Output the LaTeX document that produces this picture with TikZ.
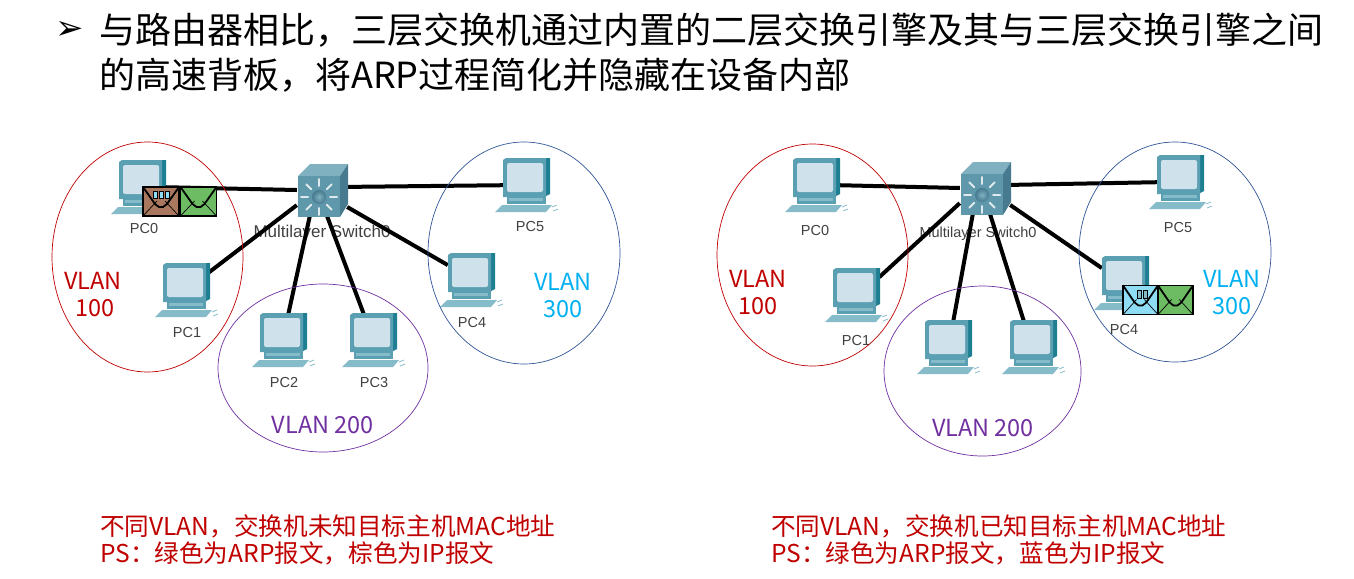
\documentclass[tikz,border=0pt]{standalone}
\usepackage{fontspec}
\setmainfont{Noto Sans CJK SC}
\newfontfamily\iconfont{Liberation Sans}
\newfontfamily\dingfont{DejaVu Sans}
\usetikzlibrary{shapes.geometric}
\definecolor{vlanred}{HTML}{C00000}
\definecolor{vlanpurple}{HTML}{7030A0}
\definecolor{vlanblue}{HTML}{00B0F0}
\definecolor{ringblue}{HTML}{2F5597}
\definecolor{pcteal}{HTML}{5A9FB2}
\definecolor{pcdark}{HTML}{1F7F92}
\definecolor{pclight}{HTML}{86BBCA}
\definecolor{pcscreen}{HTML}{CFE1EB}
\definecolor{swfront}{HTML}{5F97AB}
\definecolor{swtop}{HTML}{7FB1C1}
\definecolor{swside}{HTML}{47798F}
\definecolor{ipbrown}{HTML}{A9785F}
\definecolor{ipblue}{HTML}{8FDDF5}
\definecolor{arpgreen}{HTML}{6DBB63}
\tikzstyle{pcnode}=[inner sep=0pt,minimum width=46pt,minimum height=38pt]
\tikzstyle{swnode}=[inner sep=0pt,minimum width=50pt,minimum height=52pt]
\tikzstyle{link}=[line width=4pt,black]
\tikzstyle{ring}=[draw,ellipse,inner sep=0pt,line width=0.7pt]
\tikzstyle{vlantext}=[font=\fontsize{23.5}{28}\selectfont,align=center,inner sep=0pt]
\tikzstyle{iconlabel}=[font=\iconfont\fontsize{14.5}{15}\selectfont,text=black!75,inner sep=0pt]
\tikzstyle{caption}=[anchor=west,font=\fontsize{24.6}{27}\selectfont,align=left,text=vlanred,inner sep=0pt]
\tikzset{
  pics/pcicon/.style={code={
    % keyboard, stand, then the monitor
    \fill[pclight] (-31,33) -- (-24,26) -- (26,26) -- (20,33) -- cycle;
    \fill[pcteal] (-19,17) rectangle (20,25);
    \fill[pclight] (-17,19) rectangle (17,22);
    \fill[pcdark] (18,-21) -- (24,-21) -- (24,15) -- (18,18) -- cycle;
    \fill[pcteal] (-23,-19) -- (-20,-21) -- (20,-21) -- (20,18) -- (-23,18) -- cycle;
    \fill[pcscreen,rounded corners=2pt] (-19,-16) rectangle (17,13);
    \draw[pclight,line width=0.8pt] (26,28) -- (31,26) (27,32) -- (32,30);
  }},
  pics/swicon/.style={code={
    \fill[swtop] (-24,-14) -- (-12,-26) -- (26,-26) -- (18,-14) -- cycle;
    \fill[swside] (18,-14) -- (26,-26) -- (26,14) -- (18,27) -- cycle;
    \fill[swfront] (-24,-14) rectangle (18,27);
    \shade[inner color=swtop,outer color=swside] (-3,7) circle (7);
    \foreach \ang in {0,45,...,315}
      \draw[white!80!swfront,line width=2pt,line cap=round] (-3,7) ++(\ang:11) -- ++(\ang:7);
  }},
  pics/envelope/.style 2 args={code={
    \fill[#1] (0,0) rectangle (36,29);
    \draw[black,line width=0.7pt] (0,29) -- (14,14) (36,29) -- (22,14);
    #2
    \draw[black,line width=1.8pt] (0,0) -- (12,17) -- (16,20) -- (20,20) -- (24,17) -- (36,0);
    \draw[black,line width=1.8pt] (0,0) rectangle (36,29);
  }}
}

\begin{document}
\begin{tikzpicture}[x=1pt,y=-1pt]
    \useasboundingbox (0,0) rectangle (1354,578);

    % Heading
    \node[inner sep=0pt,font=\dingfont\bfseries\fontsize{34}{34}\selectfont] (bullet) at (70,30) {➢};
    \node[anchor=north west,inner sep=0pt,align=left,font=\fontsize{36}{45}\selectfont] (heading) at (99,13)
    {与路由器相比，三层交换机通过内置的二层交换引擎及其与三层交换引擎之间\\
    的高速背板，将ARP过程简化并隐藏在设备内部};

    % Named nodes for left network
    \foreach \name/\px/\py in {lpc0/142/181,lpc1/186/284,lpc2/283/334,lpc3/373/334,lpc4/471/274,lpc5/526/179}
      \node[pcnode] (\name) at (\px,\py) {};
    \node[swnode] (lsw) at (322,190) {};
    % Named nodes for right network
    \foreach \name/\px/\py in {rpc0/816/179,rpc1/856/289,rpc2/948/341,rpc3/1033/341,rpc4/1125/277,rpc5/1180/176}
      \node[pcnode] (\name) at (\px,\py) {};
    \node[swnode] (rsw) at (985,188) {};

    % Names under the icons
    \foreach \name/\px/\py/\txt in {lab0/144/229/PC0,lab1/187/333/PC1,lab2/284/383/PC2,lab3/374/383/PC3,lab4/472/323/PC4,lab5/530/227/PC5,
      lab6/815/231/PC0,lab7/856/341/PC1,lab8/1124/330/PC4,lab9/1178/228/PC5}
      \node[iconlabel] (\name) at (\px,\py) {\txt};
    \node[iconlabel,font=\iconfont\fontsize{17}{18}\selectfont] (lswlabel) at (322,233) {Multilayer Switch0};
    \node[iconlabel] (rswlabel) at (978,234) {Multilayer Switch0};

    % Connections, switch side and PC side anchors
    \foreach \num/\swside/\pcside in {0/180/-15,1/211/27,2/245/75,3/281/115,4/-34/159,5/7/195} {
      \draw[link] (lsw.\swside) -- (lpc\num.\pcside);
      \draw[link] (rsw.\swside) -- (rpc\num.\pcside);
    }

    % Icons on top of the connections
    \foreach \name in {lpc0,lpc1,lpc2,lpc3,lpc4,lpc5,rpc0,rpc1,rpc2,rpc3,rpc4,rpc5}
      \pic at (\name) {pcicon};
    \pic at (lsw) {swicon};
    \pic at (rsw) {swicon};

    % VLAN rings
    \node[ring,draw=vlanred,minimum width=191pt,minimum height=230pt] (lring1) at (147.5,257) {};
    \node[ring,draw=vlanpurple,minimum width=210pt,minimum height=168pt] (lring2) at (323,368) {};
    \node[ring,draw=ringblue,minimum width=192pt,minimum height=222pt] (lring3) at (524,253) {};
    \node[ring,draw=vlanred,minimum width=191pt,minimum height=222pt] (rring1) at (812.5,255) {};
    \node[ring,draw=vlanpurple,minimum width=197pt,minimum height=170pt] (rring2) at (982.5,371) {};
    \node[ring,draw=ringblue,minimum width=192pt,minimum height=220pt] (rring3) at (1175,252) {};

    % VLAN labels
    \node[vlantext,text=vlanred] (ltxt1) at (93,295) {VLAN\\[-1pt]\,100};
    \node[vlantext,text=vlanpurple] (ltxt2) at (323,425) {VLAN 200};
    \node[vlantext,text=vlanblue] (ltxt3) at (563,296) {VLAN\\[-1pt]300};
    \node[vlantext,text=vlanred] (rtxt1) at (758,293) {VLAN\\[-1pt]100};
    \node[vlantext,text=vlanpurple] (rtxt2) at (983,428) {VLAN 200};
    \node[vlantext,text=vlanblue] (rtxt3) at (1232,293) {VLAN\\[-1pt]300};

    % Packets on the links
    \pic at (143,187) {envelope={ipbrown}{
      \fill[ipblue,draw=black,line width=0.4pt] (10,4) rectangle (14,11) (16,4) rectangle (20,11) (22,4) rectangle (26,11);}};
    \pic at (180.5,187) {envelope={arpgreen}{}};
    \pic[xscale=0.97] at (1123,285.5) {envelope={ipblue}{
      \fill[ipblue!60!gray,draw=black,line width=0.4pt] (15,5) rectangle (19,13) (21,5) rectangle (25,13);}};
    \pic[xscale=0.97] at (1158,285.5) {envelope={arpgreen}{}};

    % Captions
    \node[caption] (lcaption) at (100,539.5) {不同VLAN，交换机未知目标主机MAC地址\\PS：绿色为ARP报文，棕色为IP报文};
    \node[caption] (rcaption) at (771,539.5) {不同VLAN，交换机已知目标主机MAC地址\\PS：绿色为ARP报文，蓝色为IP报文};
\end{tikzpicture}
\end{document}
